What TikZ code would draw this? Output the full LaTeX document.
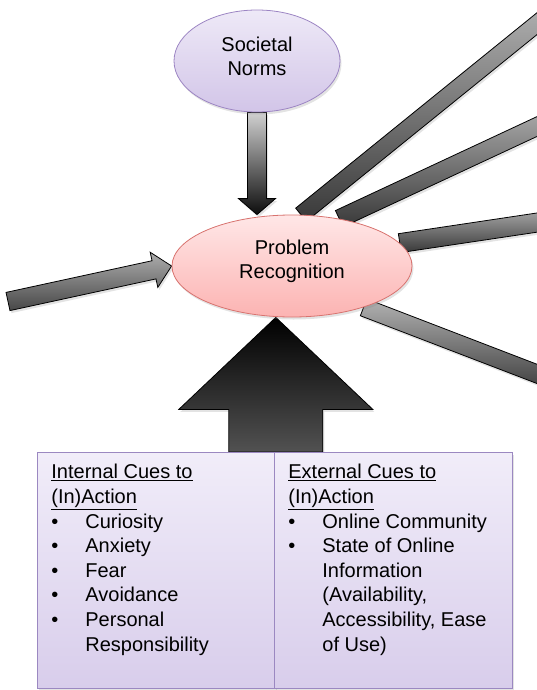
\documentclass[tikz,border=0pt]{standalone}
\usepackage{fontspec}
\setmainfont{Liberation Sans}
\usetikzlibrary{calc,shapes.geometric,shadows,backgrounds}
\definecolor{normsfill}{HTML}{EEE9F7}
\definecolor{normsshade}{HTML}{D2C5E8}
\definecolor{normsline}{HTML}{9C85C3}
\definecolor{probfill}{HTML}{FFE7E7}
\definecolor{probshade}{HTML}{FCB3B2}
\definecolor{probline}{HTML}{D8736F}
\definecolor{cuefill}{HTML}{F1EDF9}
\definecolor{cueshade}{HTML}{D8CDEB}
\definecolor{cueline}{HTML}{9B88C1}
\tikzset{
  softshadow/.style={drop shadow={opacity=0.22, shadow xshift=1.5pt, shadow yshift=-2.5pt}},
  idea/.style={ellipse, draw=#1line, line width=0.8pt, top color=#1fill, bottom color=#1shade,
    align=center, inner sep=0pt, font=\fontsize{20}{23.5}\selectfont, softshadow},
  cuebox/.style={rectangle, draw=cueline, line width=0.8pt, top color=cuefill, bottom color=cueshade,
    anchor=north west, inner xsep=14pt, inner ysep=12pt, minimum width=238pt, minimum height=236pt,
    font=\fontsize{20}{24.6}\selectfont, softshadow},
  fat/.style={draw=black, line width=0.8pt, line join=miter, softshadow},
  spokeband/.style={fat, top color=black!30, bottom color=black!78},
}
% shaded block arrow: style, tail, tip, shaft half width, head half width, head length
\newcommand{\fatarrow}[6]{%
  \coordinate (hb) at ($(#3)!#6!(#2)$);
  \path[fat,#1] ($(#2)!#4!90:(#3)$) -- ($(hb)!#4!90:(#3)$) -- ($(hb)!#5!90:(#3)$) -- (#3)
    -- ($(hb)!#5!-90:(#3)$) -- ($(hb)!#4!-90:(#3)$) -- ($(#2)!#4!-90:(#3)$) -- cycle;}
% plain band: start, end, half width
\newcommand{\band}[3]{%
  \path[spokeband] ($(#1)!#3!90:(#2)$) -- ($(#2)!#3!-90:(#1)$) -- ($(#2)!#3!90:(#1)$)
    -- ($(#1)!#3!-90:(#2)$) -- cycle;}
\newcommand{\cue}[1]{\makebox[34pt][l]{\textbullet}#1}
\newcommand{\cuemore}[1]{\hspace*{34pt}#1}

\begin{document}
\begin{tikzpicture}[x=1pt, y=-1pt]
  \useasboundingbox (0,0) rectangle (537,690);

  \node[idea=norms, minimum width=166pt, minimum height=102pt, text depth=9pt] (norms) at (257,61) {Societal\\Norms};
  \node[idea=prob, minimum width=240pt, minimum height=102pt, text depth=13pt] (prob) at (292,266) {Problem\\Recognition};

  \node[cuebox] (internal) at (37,452) {\begin{minipage}[t][212pt][t]{210pt}
    \underline{Internal Cues to}\\
    \underline{(In)Action}\\
    \cue{Curiosity}\\
    \cue{Anxiety}\\
    \cue{Fear}\\
    \cue{Avoidance}\\
    \cue{Personal}\\
    \cuemore{Responsibility}
  \end{minipage}};
  \node[cuebox] (external) at (274,452) {\begin{minipage}[t][212pt][t]{210pt}
    \underline{External Cues to}\\
    \underline{(In)Action}\\
    \cue{Online Community}\\
    \cue{State of Online}\\
    \cuemore{Information}\\
    \cuemore{(Availability,}\\
    \cuemore{Accessibility, Ease}\\
    \cuemore{of Use)}
  \end{minipage}};

  \coordinate (normsin) at (norms.south |- prob.north);
  \coordinate (cuesin) at (internal.north east |- prob.south);
  \coordinate (leftin) at (8,301.5);
  \coordinate (out1) at ($(prob.80)+(39:330pt)$);
  \coordinate (out2) at ($(prob.45)+(25:260pt)$);
  \coordinate (out3) at ($(prob.12)+(8.5:190pt)$);
  \coordinate (out4) at ($(prob.-30)+(-21:220pt)$);

  \begin{pgfonlayer}{background}
    % bands leaving to the right
    \band{prob.80}{out1}{8.5pt}
    \band{prob.45}{out2}{9pt}
    \band{prob.12}{out3}{9.5pt}
    \band{prob.-30}{out4}{9pt}

    \fatarrow{top color=black!32, bottom color=black!72}{leftin}{prob.west}{9.3pt}{18pt}{18pt}
    \fatarrow{top color=black!18, bottom color=black!95}{norms.south}{normsin}{9.5pt}{18.5pt}{16pt}
    \fatarrow{top color=black, bottom color=black!68}{internal.north east}{cuesin}{47pt}{97pt}{92pt}
  \end{pgfonlayer}
\end{tikzpicture}
\end{document}
